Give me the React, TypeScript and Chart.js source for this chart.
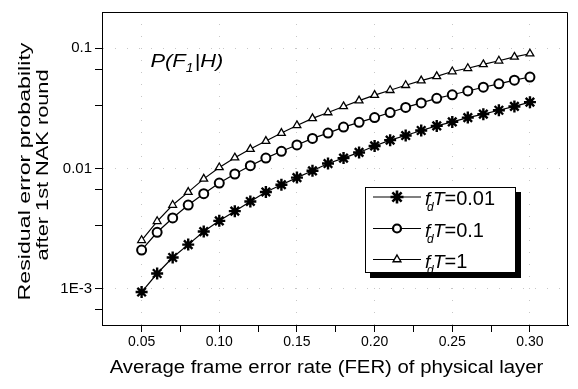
import React, { useEffect, useRef } from 'react';
import { Chart, registerables } from 'chart.js';

Chart.register(...registerables);

const FONT = 'Arial, "Liberation Sans", Helvetica, sans-serif';

// Average frame error rate (x values)
const FER = [
  0.05, 0.06, 0.07, 0.08, 0.09, 0.1, 0.11, 0.12, 0.13, 0.14, 0.15, 0.16, 0.17,
  0.18, 0.19, 0.2, 0.21, 0.22, 0.23, 0.24, 0.25, 0.26, 0.27, 0.28, 0.29, 0.3,
];

// fdT = 0.01 (asterisks)
const P_FDT_001 = [
  0.00094, 0.00134, 0.00182, 0.00233, 0.00299, 0.00367, 0.00442, 0.00532, 0.00638,
  0.00733, 0.0084, 0.00957, 0.011, 0.0122, 0.0136, 0.0154, 0.0172, 0.0188, 0.0207,
  0.0226, 0.0244, 0.0265, 0.0283, 0.0305, 0.0328, 0.0356,
];

// fdT = 0.1 (circles)
const P_FDT_01 = [
  0.0021, 0.00295, 0.00388, 0.00497, 0.00617, 0.00757, 0.009, 0.01055, 0.0122,
  0.0139, 0.0157, 0.0178, 0.0197, 0.0221, 0.0242, 0.0265, 0.0292, 0.0322, 0.0351,
  0.0383, 0.041, 0.0441, 0.0474, 0.0506, 0.0542, 0.0576,
];

// fdT = 1 (triangles)
const P_FDT_1 = [
  0.00253, 0.00364, 0.00497, 0.00636, 0.0082, 0.0102, 0.0123, 0.0145, 0.0169,
  0.0197, 0.0228, 0.0261, 0.0292, 0.0328, 0.0367, 0.0407, 0.0447, 0.0492, 0.0538,
  0.0583, 0.064, 0.0681, 0.0733, 0.0786, 0.0846, 0.09,
];

const X_TICKS = [0.05, 0.075, 0.1, 0.125, 0.15, 0.175, 0.2, 0.225, 0.25, 0.275, 0.3];
const X_LABELED = [0.05, 0.1, 0.15, 0.2, 0.25, 0.3];
const Y_TICKS = [0.000667, 0.001, 0.00333, 0.00667, 0.01, 0.0333, 0.0667, 0.1];
const Y_LABELED = [0.001, 0.01, 0.1];
const Y_LABEL_TEXT = ['1E-3', '0.01', '0.1'];
const LEGEND_VALUES = ['0.01', '0.1', '1'];
const X_TITLE = 'Average frame error rate (FER) of physical layer';
const Y_TITLE = ['Residual error probability', 'after 1st NAK round'];

const near = (a: number, b: number) => Math.abs(a - b) < 1e-7;
const isMajorX = (v: number) => X_LABELED.some((m) => near(m, v));
const isMajorY = (v: number) => Y_LABELED.some((m) => Math.abs(m - v) / m < 1e-4);

function drawStar(ctx: CanvasRenderingContext2D, x: number, y: number, r: number, lw: number) {
  ctx.save();
  ctx.lineWidth = lw;
  ctx.strokeStyle = '#000';
  ctx.beginPath();
  for (let k = 0; k < 4; k++) {
    const a = (k * Math.PI) / 4;
    ctx.moveTo(x - r * Math.cos(a), y - r * Math.sin(a));
    ctx.lineTo(x + r * Math.cos(a), y + r * Math.sin(a));
  }
  ctx.stroke();
  ctx.restore();
}

function drawCircle(ctx: CanvasRenderingContext2D, x: number, y: number, r: number, lw: number) {
  ctx.save();
  ctx.lineWidth = lw;
  ctx.strokeStyle = '#000';
  ctx.fillStyle = '#fff';
  ctx.beginPath();
  ctx.arc(x, y, r, 0, Math.PI * 2);
  ctx.fill();
  ctx.stroke();
  ctx.restore();
}

function drawTriangle(ctx: CanvasRenderingContext2D, x: number, y: number, r: number, lw: number) {
  ctx.save();
  ctx.lineWidth = lw;
  ctx.strokeStyle = '#000';
  ctx.fillStyle = '#fff';
  const h = r * 1.5;
  const s = r * Math.sqrt(3);
  ctx.beginPath();
  ctx.moveTo(x, y - h * 2 / 3);
  ctx.lineTo(x + s / 2, y + h / 3);
  ctx.lineTo(x - s / 2, y + h / 3);
  ctx.closePath();
  ctx.fill();
  ctx.stroke();
  ctx.restore();
}

const overlay = {
  id: 'overlay',
  afterDraw(chart: any) {
    const ctx: CanvasRenderingContext2D = chart.ctx;
    const a = chart.chartArea;
    ctx.save();
    // frame top/right
    ctx.strokeStyle = '#000';
    ctx.lineWidth = 1;
    ctx.beginPath();
    ctx.moveTo(a.left, a.top + 0.5);
    ctx.lineTo(a.right - 0.5, a.top + 0.5);
    ctx.lineTo(a.right - 0.5, a.bottom);
    ctx.stroke();

    ctx.fillStyle = '#000';
    ctx.textBaseline = 'alphabetic';

    // x title
    ctx.font = `18px ${FONT}`;
    ctx.textAlign = 'center';
    ctx.save();
    ctx.translate((a.left + a.right) / 2 - 8.5, a.bottom + 48);
    ctx.scale(1.13, 1);
    ctx.fillText(X_TITLE, 0, 0);
    ctx.restore();

    // y title (two lines)
    ctx.font = `16px ${FONT}`;
    ctx.save();
    ctx.translate(30, 171.5);
    ctx.rotate(-Math.PI / 2);
    ctx.scale(1.45, 1);
    ctx.fillText(Y_TITLE[0], 0, 0);
    ctx.restore();
    ctx.save();
    ctx.translate(48, 165);
    ctx.rotate(-Math.PI / 2);
    ctx.scale(1.36, 1);
    ctx.fillText(Y_TITLE[1], 0, 0);
    ctx.restore();

    // P(F1|H) annotation
    ctx.textAlign = 'left';
    ctx.save();
    ctx.translate(a.left + 48.5, 66.5);
    ctx.scale(1.15, 1);
    let x = 0;
    ctx.font = `italic 19px ${FONT}`;
    ctx.fillText('P(F', x, 0);
    x += ctx.measureText('P(F').width;
    ctx.font = `italic 12px ${FONT}`;
    ctx.fillText('1', x, 5);
    x += ctx.measureText('1').width + 1;
    ctx.font = `italic 19px ${FONT}`;
    ctx.fillText('|H)', x, 0);
    ctx.restore();

    // legend
    const bx = 365, by = 187, bw = 151, bh = 86;
    ctx.fillStyle = '#000';
    ctx.fillRect(bx + 5, by + 5, bw, bh);
    ctx.fillStyle = '#fff';
    ctx.fillRect(bx, by, bw, bh);
    ctx.strokeStyle = '#000';
    ctx.lineWidth = 1;
    ctx.strokeRect(bx + 0.5, by + 0.5, bw - 1, bh - 1);
    const rows = [by + 10, by + 41.5, by + 72.5];
    rows.forEach((ry, i) => {
      ctx.strokeStyle = '#000';
      ctx.lineWidth = 1.2;
      ctx.beginPath();
      ctx.moveTo(373, ry);
      ctx.lineTo(421, ry);
      ctx.stroke();
      if (i === 0) drawStar(ctx, 397, ry, 6.5, 2.6);
      if (i === 1) drawCircle(ctx, 397, ry, 4, 2.2);
      if (i === 2) drawTriangle(ctx, 397, ry, 4.5, 1.4);
      const tx = 425, tb = ry + 8;
      ctx.fillStyle = '#000';
      ctx.font = `italic 19px ${FONT}`;
      ctx.fillText('f', tx, tb);
      ctx.font = `italic 12px ${FONT}`;
      ctx.fillText('d', tx + 2, tb + 6);
      ctx.font = `italic 19px ${FONT}`;
      ctx.fillText('T', tx + 8, tb);
      ctx.font = `20px ${FONT}`;
      ctx.fillText('=' + LEGEND_VALUES[i], tx + 19.5, tb);
    });
    ctx.restore();
  },
};

export default function App() {
  const ref = useRef<HTMLCanvasElement | null>(null);
  useEffect(() => {
    if (!ref.current) return;
    const mk = (arr: number[]) => FER.map((x, i) => ({ x, y: arr[i] }));
    const chart = new Chart(ref.current, {
      type: 'line',
      data: {
        datasets: [
          {
            label: 'fdT=0.01',
            data: mk(P_FDT_001),
            borderColor: '#000',
            borderWidth: 1.2,
            pointStyle: 'star',
            pointRadius: 6,
            pointBorderWidth: 2.4,
            pointBorderColor: '#000',
            pointBackgroundColor: '#000',
            tension: 0,
          },
          {
            label: 'fdT=0.1',
            data: mk(P_FDT_01),
            borderColor: '#000',
            borderWidth: 1.2,
            pointStyle: 'circle',
            pointRadius: 4.5,
            pointBorderWidth: 2,
            pointBorderColor: '#000',
            pointBackgroundColor: '#fff',
            tension: 0,
          },
          {
            label: 'fdT=1',
            data: mk(P_FDT_1),
            borderColor: '#000',
            borderWidth: 1.2,
            pointStyle: 'triangle',
            pointRadius: 4.5,
            pointBorderWidth: 1.3,
            pointBorderColor: '#000',
            pointBackgroundColor: '#fff',
            tension: 0,
          },
        ],
      },
      options: {
        animation: false,
        responsive: false,
        devicePixelRatio: 1,
        layout: { padding: { top: 2, right: 10, bottom: 0, left: 0 } },
        plugins: { legend: { display: false }, tooltip: { enabled: false } },
        scales: {
          x: {
            type: 'linear',
            min: 0.0245,
            max: 0.3245,
            afterBuildTicks: (s: any) => {
              s.ticks = X_TICKS.map((v) => ({ value: v }));
            },
            afterFit: (s: any) => {
              s.height = 64;
            },
            ticks: {
              autoSkip: false,
              maxRotation: 0,
              padding: 2,
              color: '#000',
              font: { size: 14, family: FONT },
              callback: (v: any) => (isMajorX(Number(v)) ? Number(v).toFixed(2) : ''),
            },
            grid: {
              color: (c: any) => (c.tick && isMajorX(c.tick.value) ? 'rgba(0,0,0,0.22)' : 'rgba(0,0,0,0)'),
              tickColor: '#000',
              tickLength: 7,
              lineWidth: 1,
            },
            border: { display: true, color: '#000', width: 1, dash: [1, 11] },
          },
          y: {
            type: 'logarithmic',
            min: 0.0005,
            max: 0.2,
            afterBuildTicks: (s: any) => {
              s.ticks = Y_TICKS.map((v) => ({ value: v }));
            },
            afterFit: (s: any) => {
              s.width = 102;
            },
            ticks: {
              autoSkip: false,
              padding: 3,
              color: '#000',
              font: { size: 15, family: FONT },
              callback: (v: any) => {
                const n = Number(v);
                const idx = Y_LABELED.findIndex((m) => Math.abs(m - n) / m < 1e-4);
                return idx >= 0 ? Y_LABEL_TEXT[idx] : '';
              },
            },
            grid: {
              color: (c: any) => (c.tick && isMajorY(c.tick.value) ? 'rgba(0,0,0,0.22)' : 'rgba(0,0,0,0)'),
              tickColor: '#000',
              tickLength: 7,
              lineWidth: 1,
            },
            border: { display: true, color: '#000', width: 1, dash: [1, 11] },
          },
        },
      } as any,
      plugins: [overlay],
    });
    return () => chart.destroy();
  }, []);
  return (
    <div style={{ position: 'fixed', left: 0, top: 0, width: 578, height: 389, background: '#fff' }}>
      <canvas ref={ref} width={578} height={389} style={{ display: 'block' }} />
    </div>
  );
}
